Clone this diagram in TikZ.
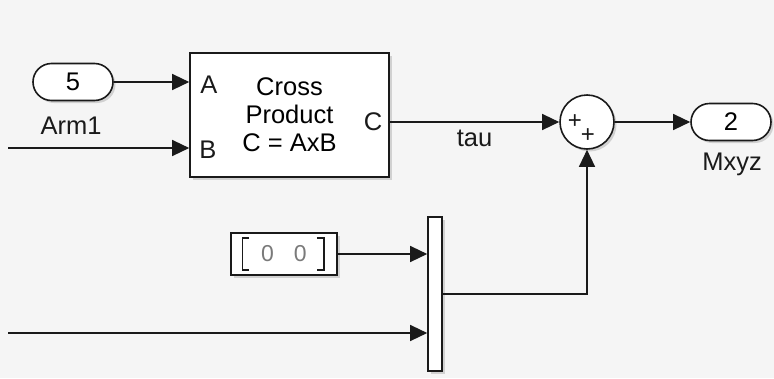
\documentclass[tikz,border=0pt]{standalone}
\usepackage{fontspec}
\setmainfont{Liberation Sans}
\usepackage{xcolor}
\definecolor{simbg}{HTML}{F5F5F5}
\definecolor{simline}{HTML}{1A1A1A}
\definecolor{simgray}{HTML}{7A7A7A}
\usetikzlibrary{arrows.meta,positioning,shapes.misc,shadows,calc}

\begin{document}
\begin{tikzpicture}[
  x=1pt, y=-1pt,
  font=\fontsize{25.5}{28}\selectfont,
  blk/.style={rectangle, draw=simline, line width=1.6pt, fill=white, align=center,
              inner sep=0pt, drop shadow={shadow xshift=2.5pt, shadow yshift=-2.5pt, opacity=0.3}},
  port/.style={rounded rectangle, draw=simline, line width=1.6pt, fill=white,
               minimum width=80pt, minimum height=37pt, inner sep=0pt,
               drop shadow={shadow xshift=2.5pt, shadow yshift=-2.5pt, opacity=0.3}},
  sig/.style={-{Triangle[length=17pt, width=16pt]}, line width=1.3pt, simline},
  lbl/.style={text=simline},
  pls/.style={font=\fontsize{24}{24}\selectfont, text=simline, inner sep=0pt},
]
% ---------- canvas
\fill[simbg] (0,0) rectangle (774,378);

% ---------- ports and blocks
\node[port] (arm1) at (73,82)  {5};
\node[port] (mxyz) at (731,122) {2};
\node[lbl] (arm1lbl) at (71,126)  {Arm1};
\node[lbl] (mxyzlbl) at (732,164) {Mxyz};

\node[blk, minimum width=199pt, minimum height=124pt] (xp) at (289.5,115) {Cross\\Product\\C = AxB};
\node[lbl] (pa) at (209,85)  {A};
\node[lbl] (pb) at (208,150) {B};
\node[lbl] (pc) at (373,122) {C};

\node[blk, circle, minimum size=54pt] (sum) at (587,122) {};
\node[pls] (p1) at (575,122) {+};
\node[pls] (p2) at (588,136) {+};

\node[blk, minimum width=106pt, minimum height=42pt] (zero) at (284,254)
  {\textcolor{simgray}{\fontsize{23}{23}\selectfont 0\hspace{20pt}0}};
\draw[line width=1.4pt, simline] ($(zero.west)+(19,-16)$) -- ++(-7,0) -- ++(0,32) -- ++(7,0);
\draw[line width=1.4pt, simline] ($(zero.east)+(-21,-16)$) -- ++(7,0) -- ++(0,32) -- ++(-7,0);

\node[blk, minimum width=14pt, minimum height=154pt] (mux) at (435,294) {};

% ---------- signals
\coordinate (inB) at (8,148);
\coordinate (inM) at (8,333);
\draw[sig] (arm1.east) -- (arm1.east -| xp.west);
\draw[sig] (inB) -- (inB -| xp.west);
\draw[sig] (sum.west -| xp.east) -- (sum.west)
  node[lbl, pos=0.5, below=4pt] (tau) {tau};
\draw[sig] (sum.east) -- (mxyz.west);
\draw[sig] (zero.east) -- (zero.east -| mux.west);
\draw[sig] (inM) -- (inM -| mux.west);
\draw[sig] (mux.east) -| (sum.south);
\end{tikzpicture}
\end{document}
